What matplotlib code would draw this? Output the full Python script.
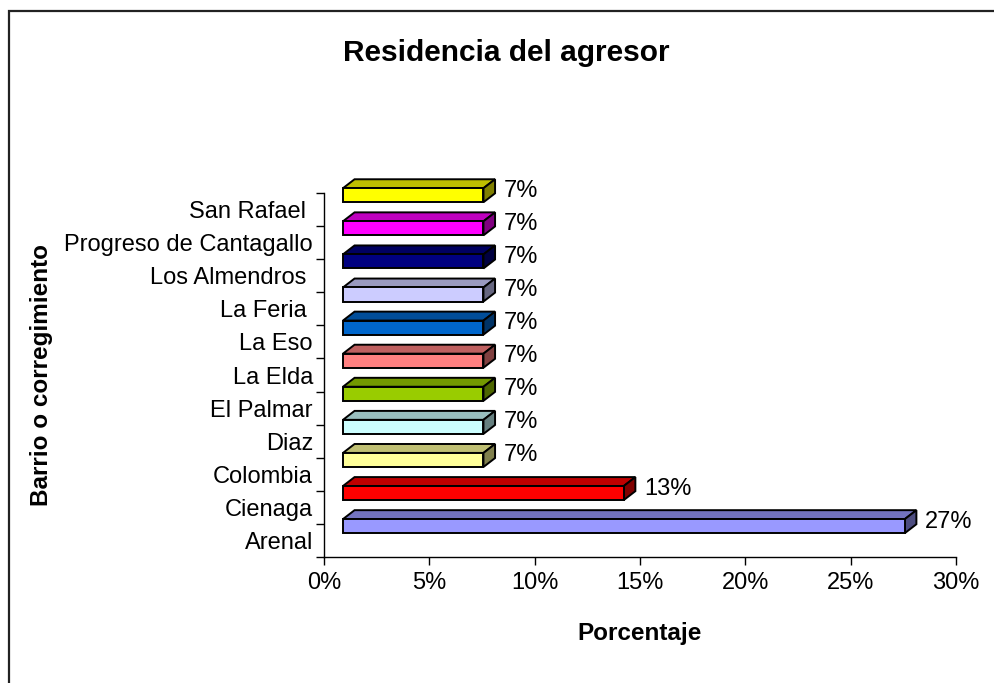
import numpy as np
import matplotlib.pyplot as plt
from matplotlib.patches import Polygon, Rectangle
from matplotlib.colors import to_rgb

plt.rcParams['font.family'] = ['Liberation Sans', 'DejaVu Sans']

# datos (de abajo hacia arriba)
barrios = ["Arenal", "Cienaga", "Colombia", "Diaz", "El Palmar", "La Elda",
           "La Eso", "La Feria ", "Los Almendros ", "Progreso de Cantagallo",
           "San Rafael "]
porcentaje = [26.67, 13.33, 6.67, 6.67, 6.67, 6.67, 6.67, 6.67, 6.67, 6.67, 6.67]
colores = ["#9999FF", "#FF0000", "#FFFF99", "#CCFFFF", "#99CC00", "#FF8080",
           "#0066CC", "#CCCCFF", "#000080", "#FF00FF", "#FFFF00"]
xticks = [0, 5, 10, 15, 20, 25, 30]

# geometria de las barras 3D (en unidades de datos)
x0 = 0.9      # desplazamiento de la cara frontal
y0 = 0.72     # base de la cara frontal dentro de la categoria
h = 0.425     # alto de la cara frontal
dx = 0.55     # profundidad en x
dy = 0.27     # profundidad en y

fig = plt.figure(figsize=(9.95, 6.83), dpi=100)
ax = fig.add_axes([324/995, 1-557/683, (956-324)/995, (557-193)/683])

def shade(c, f):
    r, g, b = to_rgb(c)
    return (r*f, g*f, b*f)

for i, (v, c) in enumerate(zip(porcentaje, colores)):
    xa, xb = x0, x0 + v
    ya, yb = i + y0, i + y0 + h
    front = Polygon([(xa, ya), (xb, ya), (xb, yb), (xa, yb)], closed=True,
                    facecolor=c, edgecolor='k', lw=1.4, clip_on=False)
    top = Polygon([(xa, yb), (xb, yb), (xb+dx, yb+dy), (xa+dx, yb+dy)], closed=True,
                  facecolor=shade(c, 0.75), edgecolor='k', lw=1.4, clip_on=False)
    side = Polygon([(xb, ya), (xb+dx, ya+dy), (xb+dx, yb+dy), (xb, yb)], closed=True,
                   facecolor=shade(c, 0.5), edgecolor='k', lw=1.4, clip_on=False)
    for p in (top, side, front):
        ax.add_patch(p)
    ax.text(xb + dx + 0.4, i + 1.07, f"{v:.0f}%", fontsize=17,
            va='center', ha='left', clip_on=False)

ax.set_xlim(0, 30)
ax.set_ylim(0, 11)
ax.set_xticks(xticks)
ax.set_xticklabels([f"{t}%" for t in xticks], fontsize=17)
ax.set_yticks(np.arange(0, 12))
ax.set_yticklabels([])
ax.set_yticks(np.arange(len(barrios)) + 0.5, minor=True)
ax.set_yticklabels(barrios, minor=True, fontsize=17)
ax.tick_params(axis='y', which='major', length=6, width=1, direction='out')
ax.tick_params(axis='y', which='minor', length=0, pad=8)
ax.tick_params(axis='x', length=6, width=1, direction='out', pad=5)

for s in ('top', 'right'):
    ax.spines[s].set_visible(False)
for s in ('left', 'bottom'):
    ax.spines[s].set_linewidth(1)

ax.set_xlabel("Porcentaje", fontsize=17.5, fontweight='bold', labelpad=20)
ax.set_ylabel("Barrio o corregimiento", fontsize=17.5, fontweight='bold', labelpad=8)

fig.text(506/995, 1-53/683, "Residencia del agresor", fontsize=21.5,
         fontweight='bold', ha='center', va='center')

# marco del area del grafico
fig.patches.append(Rectangle((9/995, -0.1), 1.2, 1.1 - 11.5/683,
                             transform=fig.transFigure, fill=False,
                             edgecolor='#222222', lw=1.6))

plt.savefig("out.png", dpi=100)
